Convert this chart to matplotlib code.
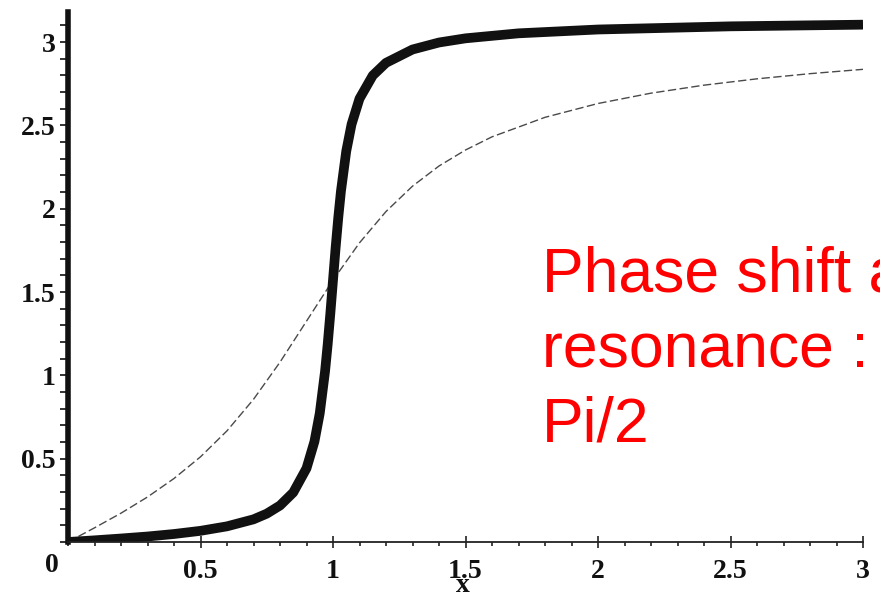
import matplotlib
matplotlib.use("Agg")
import matplotlib.pyplot as plt
from matplotlib.font_manager import FontProperties
from matplotlib.ticker import MultipleLocator, FixedFormatter, FixedLocator

# values: phase shift vs frequency ratio x
# thick curve (light damping)
x_light = [0, 0.1, 0.2, 0.3, 0.4, 0.5, 0.6, 0.7, 0.75, 0.8, 0.85, 0.9, 0.93, 0.95,
           0.97, 0.98, 0.99, 1.0, 1.01, 1.02, 1.03, 1.05, 1.07, 1.1, 1.15, 1.2,
           1.3, 1.4, 1.5, 1.7, 2.0, 2.5, 3.0]
y_light = [0, 0.010, 0.021, 0.033, 0.048, 0.067, 0.094, 0.136, 0.170, 0.219, 0.297,
           0.442, 0.603, 0.772, 1.024, 1.187, 1.372, 1.571, 1.768, 1.948, 2.105,
           2.345, 2.506, 2.660, 2.799, 2.875, 2.955, 2.997, 3.022, 3.052, 3.075,
           3.094, 3.104]

# thin dashed curve (heavy damping)
x_heavy = [0, 0.1, 0.2, 0.3, 0.4, 0.5, 0.6, 0.7, 0.8, 0.9, 1.0, 1.1, 1.2, 1.3,
           1.4, 1.5, 1.6, 1.8, 2.0, 2.2, 2.4, 2.6, 2.8, 3.0]
y_heavy = [0, 0.085, 0.173, 0.270, 0.381, 0.511, 0.667, 0.856, 1.079, 1.325, 1.571,
           1.795, 1.983, 2.135, 2.256, 2.352, 2.431, 2.548, 2.631, 2.693, 2.741,
           2.779, 2.810, 2.836]

xtick_vals = [0.5, 1, 1.5, 2, 2.5, 3]
xtick_labels = ["0.5", "1", "1.5", "2", "2.5", "3"]
ytick_vals = [0.5, 1, 1.5, 2, 2.5, 3]
ytick_labels = ["0.5", "1", "1.5", "2", "2.5", "3"]

note_lines = ["Phase shift at", "resonance :", "Pi/2"]

W, H = 880, 597
fig = plt.figure(figsize=(W / 100, H / 100), dpi=100)
# x: 0 -> px 68, 3 -> px 863 ; y: 0 -> px 542, top 3.18 -> px 12
ax = fig.add_axes([68 / W, (H - 542) / H, 795 / W, 530 / H])
ax.set_xlim(0, 3)
ax.set_ylim(0, 3.18)
ax.patch.set_visible(False)

ax.plot(x_heavy, y_heavy, color="#4a4a4a", lw=1.0, dashes=(6, 2.5))
ax.plot(x_light, y_light, color="#111111", lw=7, solid_capstyle="butt",
        solid_joinstyle="round")

for s in ["top", "right"]:
    ax.spines[s].set_visible(False)
ax.spines["left"].set_linewidth(4)
ax.spines["left"].set_color("#111111")
ax.spines["bottom"].set_linewidth(1.3)
ax.spines["bottom"].set_color("#222222")

tick_font = dict(family=["Liberation Serif", "DejaVu Serif"], size=20, weight="bold")

ax.xaxis.set_major_locator(FixedLocator(xtick_vals))
ax.xaxis.set_major_formatter(FixedFormatter(xtick_labels))
ax.xaxis.set_minor_locator(MultipleLocator(0.1))
ax.yaxis.set_major_locator(FixedLocator(ytick_vals))
ax.yaxis.set_major_formatter(FixedFormatter(ytick_labels))
ax.yaxis.set_minor_locator(MultipleLocator(0.1))

ax.tick_params(axis="x", which="major", direction="inout", length=8, width=1.2,
               pad=8, colors="#222222")
ax.tick_params(axis="x", which="minor", direction="out", length=3, width=1.2,
               colors="#222222")
ax.tick_params(axis="y", which="both", direction="out", length=6, width=1.3,
               pad=3, colors="#222222")
for lab in ax.get_xticklabels() + ax.get_yticklabels():
    lab.set_fontproperties(FontProperties(**tick_font))
    lab.set_color("#111111")

# origin label and axis label
fig.text(52 / W, 1 - 565 / H, "0", ha="center", va="center", color="#111111",
         **tick_font)
fig.text(463 / W, 1 - 586 / H, "x", ha="center", va="center", color="#111111",
         **tick_font)

# red note, runs off the right edge like the original
for i, line in enumerate(note_lines):
    fig.text(542 / W, 1 - (292 + 75 * i) / H, line, color="red", fontsize=45,
             family=["Liberation Sans", "DejaVu Sans"], ha="left", va="baseline")

fig.savefig("out.png", dpi=100)
